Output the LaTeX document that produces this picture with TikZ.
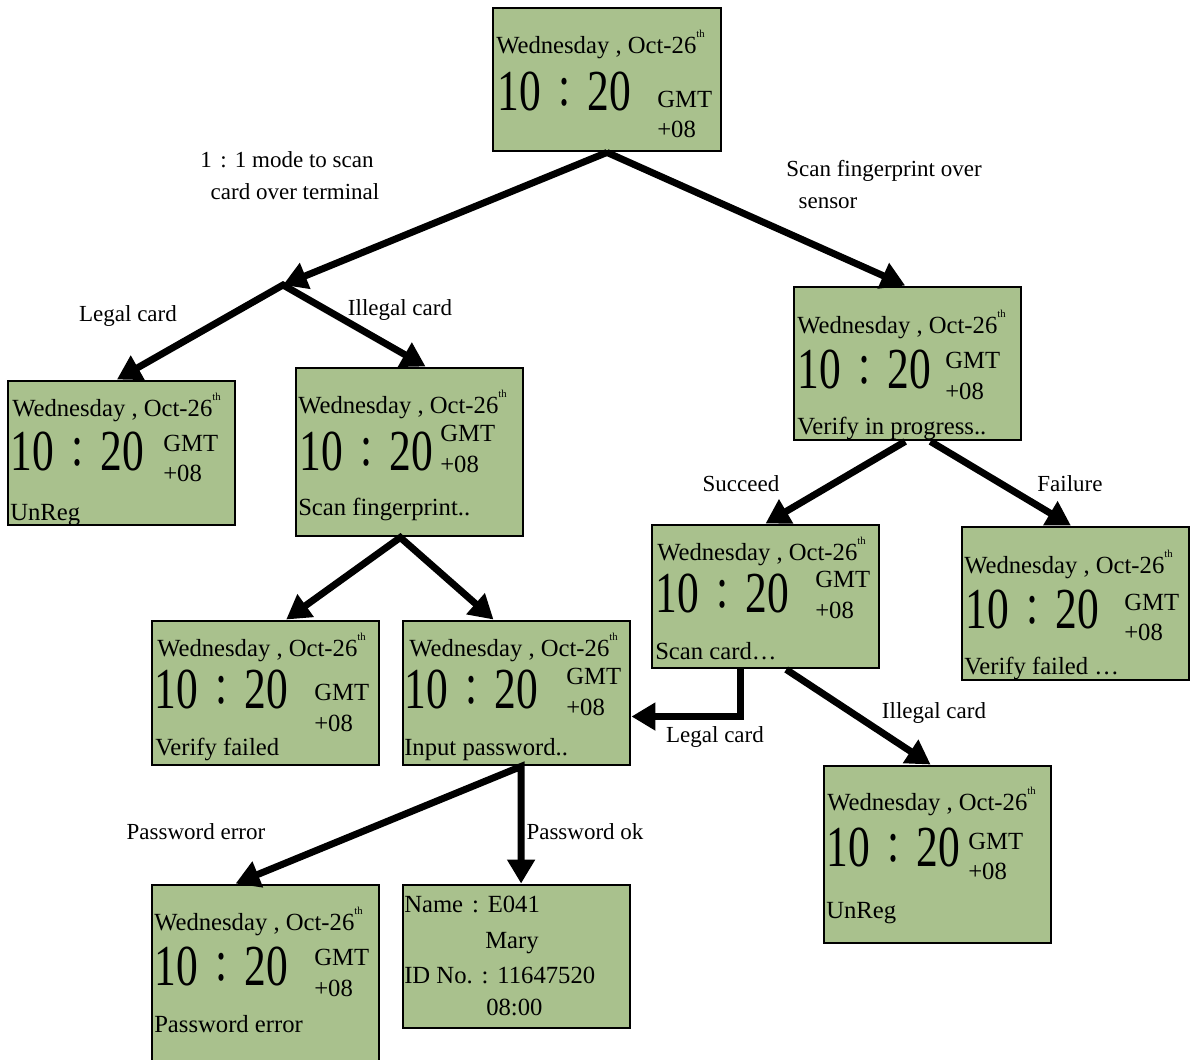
\documentclass[tikz,border=0pt]{standalone}
\usepackage{graphicx}
\usepackage{fontspec}
\setmainfont{Liberation Serif}
\usetikzlibrary{arrows.meta,fit,calc}
\definecolor{lcd}{HTML}{A9C18D}
\newcommand\thsup{\raisebox{0.62em}{\fontsize{8}{8}\selectfont th}}
\newcommand\bigtime{\scalebox{0.75}[1]{10\hspace{0.4em}\raisebox{0.08em}{:}\hspace{0.4em}20}}
\newcommand\fwc{\makebox[1em]{:}}
\tikzset{
  lcdbox/.style={draw, fill=lcd, line width=2.2pt, inner sep=0pt, rectangle},
  txt/.style={anchor=base west, inner sep=0pt, font=\fontsize{18.5}{18.5}\selectfont},
  gmt/.style={txt, text depth=0pt},
  bigt/.style={anchor=base west, inner sep=0pt, font=\fontsize{43.5}{43.5}\selectfont},
  lbl/.style={inner sep=0pt, font=\fontsize{17.25}{17.25}\selectfont},
  conn/.style={line width=5.2pt, -{Triangle[length=18pt,width=20pt]}},
  conn2/.style={line width=5.2pt, {Triangle[length=18pt,width=20pt]}-{Triangle[length=18pt,width=20pt]}}
}
\newcommand\lcd[5]{\node[lcdbox, fit={(#2,#3) (#4,#5)}] (#1) {};}
\newcommand\clock[8]{%
  \node[txt] (#1d) at (#2,#3) {Wednesday , Oct-26\thsup};
  \node[bigt] (#1t) at (#4,#5) {\bigtime};
  \node[gmt] (#1g) at (#6,#7) {GMT};
  \node[txt] (#1p) at (#6,#8) {+08};}
\begin{document}
\begin{tikzpicture}[x=0.75pt,y=-0.75pt]
\useasboundingbox (0,0) rectangle (1190,1060);
% boxes
\lcd{b1}{493}{8}{721}{151}
\lcd{b2}{8}{381}{235}{525}
\lcd{b3}{296}{368}{523}{536}
\lcd{b4}{794}{287}{1021}{440}
\lcd{b5}{652}{525}{879}{668}
\lcd{b6}{962}{527}{1189}{680}
\lcd{b7}{152}{621}{379}{765}
\lcd{b8}{403}{621}{630}{765}
\lcd{b9}{824}{766}{1051}{943}
\lcd{b10}{152}{885}{379}{1066}
\lcd{b11}{403}{885}{630}{1028}
% box contents
\clock{c1}{496}{53}{497}{110}{657}{107}{137}
\clock{c2}{12}{416}{10}{470}{163}{451}{481}
\node[txt] (s2) at (10,520) {UnReg};
\clock{c3}{298}{413}{299}{470}{440}{441}{472}
\node[txt] (s3) at (298,515) {Scan fingerprint..};
\clock{c4}{797}{333}{797}{388}{945}{368}{399}
\node[txt] (s4) at (797,434) {Verify in progress..};
\clock{c5}{657}{560}{655}{612}{815}{587}{618}
\node[txt] (s5) at (655,659) {Scan card…};
\clock{c6}{964}{573}{965}{628}{1124}{610}{640}
\node[txt] (s6) at (964,674) {Verify failed …};
\clock{c7}{157}{656}{154}{708}{314}{700}{731}
\node[txt] (s7) at (155,755) {Verify failed};
\clock{c8}{409}{656}{404}{708}{566}{684}{715}
\node[txt] (s8) at (404,755) {Input password..};
\clock{c9}{827}{810}{826}{866}{968}{849}{879}
\node[txt] (s9) at (826,918) {UnReg};
\clock{c10}{154}{930}{154}{985}{314}{965}{996}
\node[txt] (s10) at (154,1032) {Password error};
\node[txt] (n1) at (404,912) {Name\fwc E041};
\node[txt] (n2) at (485,948) {Mary};
\node[txt] (n3) at (404,983) {ID No.\fwc 11647520};
\node[txt] (n4) at (486,1015) {08:00};
% labels
\node[lbl] (l1) at (287,160) {1\fwc 1 mode to scan};
\node[lbl] (l2) at (295,192) {card over terminal};
\node[lbl] (l3) at (884,171) {Scan fingerprint over};
\node[lbl] (l4) at (828,203) {sensor};
\node[lbl] (l5) at (128,316) {Legal card};
\node[lbl] (l6) at (400,310) {Illegal card};
\node[lbl] (l7) at (741,484) {Succeed};
\node[lbl] (l8) at (1070,484) {Failure};
\node[lbl] (l9) at (715,737) {Legal card};
\node[lbl] (l10) at (934,713) {Illegal card};
\node[lbl] (l11) at (196,832) {Password error};
\node[lbl] (l12) at (585,832) {Password ok};
% connectors
\coordinate (split) at (283,285);
\draw[conn] (b1.south) -- (split);
\draw[conn2] ($(b2.north west)!0.48!(b2.north east)$) -- (split) -- ($(b3.north west)!0.57!(b3.north east)$);
\draw[conn] (b1.south) -- ($(b4.north west)!0.49!(b4.north east)$);
\draw[conn] ($(b4.south west)!0.49!(b4.south east)$) -- (b5.north);
\draw[conn] ($(b4.south west)!0.6!(b4.south east)$) -- ($(b6.north west)!0.48!(b6.north east)$);
\draw[conn2] ($(b7.north west)!0.59!(b7.north east)$) -- ($(b3.south west)!0.46!(b3.south east)$) -- ($(b8.north west)!0.4!(b8.north east)$);
\draw[conn] ($(b5.south west)!0.39!(b5.south east)$) |- ($(b8.north east)!0.66!(b8.south east)$);
\draw[conn] ($(b5.south west)!0.59!(b5.south east)$) -- ($(b9.north west)!0.47!(b9.north east)$);
\draw[conn2] ($(b10.north west)!0.37!(b10.north east)$) -- ($(b8.south west)!0.52!(b8.south east)$) -- ($(b11.north west)!0.52!(b11.north east)$);
\end{tikzpicture}
\end{document}
